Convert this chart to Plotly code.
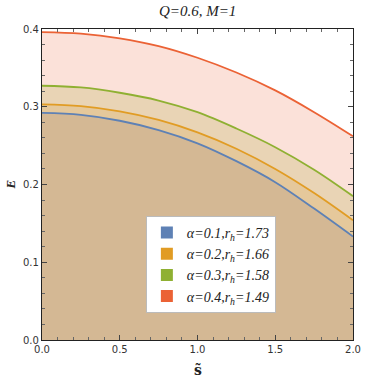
import plotly.graph_objects as go

s_vals = [0.0, 0.25, 0.5, 0.75, 1.0, 1.25, 1.5, 1.75, 2.0]
E_a01 = [0.292, 0.2895, 0.282, 0.270, 0.253, 0.230, 0.203, 0.169, 0.133]
E_a02 = [0.303, 0.3007, 0.294, 0.283, 0.267, 0.246, 0.220, 0.189, 0.154]
E_a03 = [0.327, 0.3248, 0.318, 0.308, 0.293, 0.272, 0.248, 0.219, 0.185]
E_a04 = [0.396, 0.394, 0.388, 0.378, 0.363, 0.344, 0.321, 0.293, 0.262]

labels = [
    "<i>α=0.1,r<sub>h</sub>=1.73</i>",
    "<i>α=0.2,r<sub>h</sub>=1.66</i>",
    "<i>α=0.3,r<sub>h</sub>=1.58</i>",
    "<i>α=0.4,r<sub>h</sub>=1.49</i>",
]
line_colors = ["#5E81B5", "#E19C24", "#8FB032", "#EB6235"]
fill_colors = ["#D4B894", "#E5C89B", "#E9D4B5", "#FBE1D9"]
series = [E_a01, E_a02, E_a03, E_a04]

fig = go.Figure()
for i, (ys, lc, fc) in enumerate(zip(series, line_colors, fill_colors)):
    fig.add_trace(go.Scatter(
        x=s_vals, y=ys, mode="lines",
        line=dict(color=lc, width=1.8, shape="spline", smoothing=1.0),
        fill="tozeroy" if i == 0 else "tonexty",
        fillcolor=fc, showlegend=False, hoverinfo="skip",
    ))
for lab, lc in zip(labels, line_colors):
    fig.add_trace(go.Scatter(
        x=[None], y=[None], mode="markers",
        marker=dict(symbol="square", size=8, color=lc),
        name=lab, showlegend=True,
    ))

axis_common = dict(
    showline=True, linecolor="#222", linewidth=1.2, mirror="allticks",
    ticks="inside", ticklen=5, tickcolor="#444", tickwidth=1,
    showgrid=False, zeroline=False,
    tickfont=dict(family="DejaVu Sans", size=10, color="#333"),
)
fig.update_xaxes(range=[0, 2], tickvals=[0, 0.5, 1.0, 1.5, 2.0],
                 ticktext=["0.0", "0.5", "1.0", "1.5", "2.0"],
                 minor=dict(dtick=0.1, ticks="inside", ticklen=3, tickcolor="#666"),
                 **axis_common)
fig.update_yaxes(range=[0, 0.4], tickvals=[0, 0.1, 0.2, 0.3, 0.4],
                 ticktext=["0.0", "0.1", "0.2", "0.3", "0.4"],
                 minor=dict(dtick=0.02, ticks="inside", ticklen=3, tickcolor="#666"),
                 **axis_common)

fig.update_layout(
    width=379, height=384,
    margin=dict(l=42, r=26, t=29, b=44),
    paper_bgcolor="white", plot_bgcolor="white",
    showlegend=True,
    legend=dict(x=0.334, y=0.399, xanchor="left", yanchor="top",
                traceorder="normal", itemwidth=30,
                bgcolor="white", bordercolor="#BBBBBB", borderwidth=1,
                font=dict(family="Liberation Serif", size=14, color="#222"),
                itemsizing="constant", tracegroupgap=0),
    annotations=[
        dict(text="<i>Q=0.6, M=1</i>", x=0.5, y=1, xref="paper", yref="paper",
             xanchor="center", yanchor="bottom", yshift=8, showarrow=False,
             font=dict(family="Liberation Serif", size=15, color="#222")),
        dict(text="<b><i>E</i></b>", x=0, y=0.5, xref="paper", yref="paper",
             xanchor="center", yanchor="middle", xshift=-32, showarrow=False,
             textangle=-90,
             font=dict(family="Liberation Serif", size=13, color="#222")),
        dict(text="<b>s\u0303</b>", x=0.5, y=0, xref="paper", yref="paper",
             xanchor="center", yanchor="top", yshift=-20, showarrow=False,
             font=dict(family="DejaVu Serif", size=14, color="#222")),
    ],
)

fig.write_html("out.html",
               config={"displayModeBar": False},
               post_script="document.body.style.margin='0';document.body.style.padding='0';")
